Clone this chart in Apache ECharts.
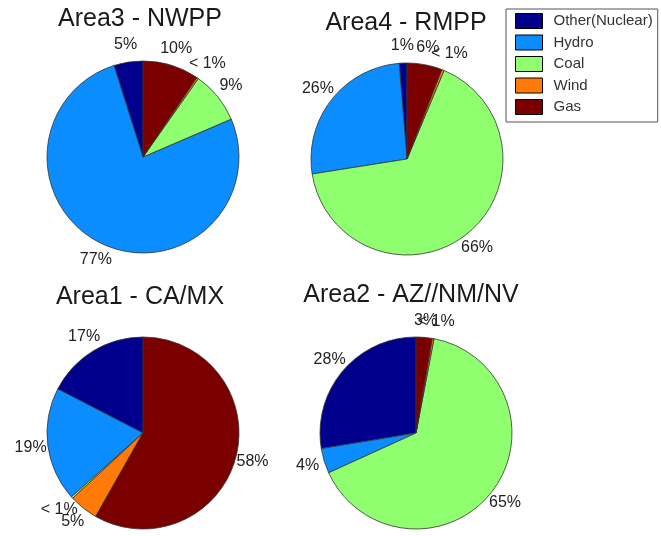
<!DOCTYPE html>
<html>
<head>
<meta charset="utf-8">
<script src="https://cdn.jsdelivr.net/npm/echarts@6/dist/echarts.min.js"></script>
<style>
  html, body { margin: 0; padding: 0; background: #fff; }
  #main { width: 661px; height: 536px; }
</style>
</head>
<body>
<div id="main"></div>
<script>
// sources, in legend order (pie goes counterclockwise from 12 o'clock)
var sources = ['Other(Nuclear)', 'Hydro', 'Coal', 'Wind', 'Gas']
var colors = ['#00008c', '#0b8cff', '#8fff70', '#ff7a08', '#7a0000']

var titles = ['Area3 - NWPP', 'Area4 - RMPP', 'Area1 - CA/MX', 'Area2 - AZ//NM/NV']

// share of generation, percent
var area3 = [4.9, 76.8, 8.8, 0.3, 9.5]
var area4 = [1.3, 26.2, 66.2, 0.4, 5.9]
var area1 = [17.4, 19.2, 0.3, 4.9, 58.2]
var area2 = [27.6, 4.2, 65.2, 0.3, 2.7]

var areaValues = [area3, area4, area1, area2]
var centers = [[143, 157], [407, 159], [143, 433], [416, 433]]
var titlePos = [[140, 7], [406, 11], [140, 285], [411, 283]]
var R = 96

function pctLabel(v) {
  return v < 1 ? '< 1%' : Math.round(v) + '%'
}

// matlab-style: label centred a bit outside the rim on the slice's mid angle
function centreLabel(p) {
  var pts = p.labelLinePoints
  if (!pts) return {}
  var dx = pts[1][0] - pts[0][0]
  var dy = pts[1][1] - pts[0][1]
  var len = Math.sqrt(dx * dx + dy * dy) || 1
  return {
    x: pts[0][0] + dx / len * R * 0.18,
    y: pts[0][1] + dy / len * R * 0.18,
    align: 'center',
    verticalAlign: 'middle'
  }
}

var myChart = echarts.init(document.getElementById('main'))

var series = areaValues.map(function (vals, i) {
  return {
    type: 'pie',
    center: centers[i],
    radius: R,
    startAngle: 90,
    clockwise: false,
    silent: true,
    avoidLabelOverlap: false,
    label: {
      show: true,
      position: 'outside',
      color: '#222',
      fontSize: 16,
      fontFamily: 'Liberation Sans, Arial, sans-serif',
      formatter: function (p) { return pctLabel(p.value) }
    },
    labelLine: { show: true, length: 10, length2: 0, lineStyle: { opacity: 0 } },
    labelLayout: centreLabel,
    itemStyle: { borderColor: '#333', borderWidth: 0.8 },
    data: vals.map(function (v, j) { return { name: sources[j], value: v } })
  }
})

var option = {
  animation: false,
  color: colors,
  title: titles.map(function (t, i) {
    return {
      text: t,
      left: titlePos[i][0],
      top: titlePos[i][1],
      textAlign: 'center',
      padding: 0,
      textStyle: {
        fontSize: 25,
        fontWeight: 'normal',
        color: '#1a1a1a',
        fontFamily: 'Liberation Sans, Arial, sans-serif'
      }
    }
  }),
  legend: {
    orient: 'vertical',
    left: 506,
    top: 9,
    padding: [4, 5, 7, 9],
    borderColor: '#555',
    borderWidth: 1,
    backgroundColor: '#fff',
    itemWidth: 27,
    itemHeight: 15,
    itemGap: 5.5,
    icon: 'rect',
    selectedMode: false,
    itemStyle: { borderColor: '#000', borderWidth: 1 },
    textStyle: {
      fontSize: 15,
      lineHeight: 15,
      color: '#333',
      padding: [0, 0, 0, 6],
      fontFamily: 'Liberation Sans, Arial, sans-serif'
    },
    data: sources
  },
  series: series
}

myChart.setOption(option)
</script>
</body>
</html>
